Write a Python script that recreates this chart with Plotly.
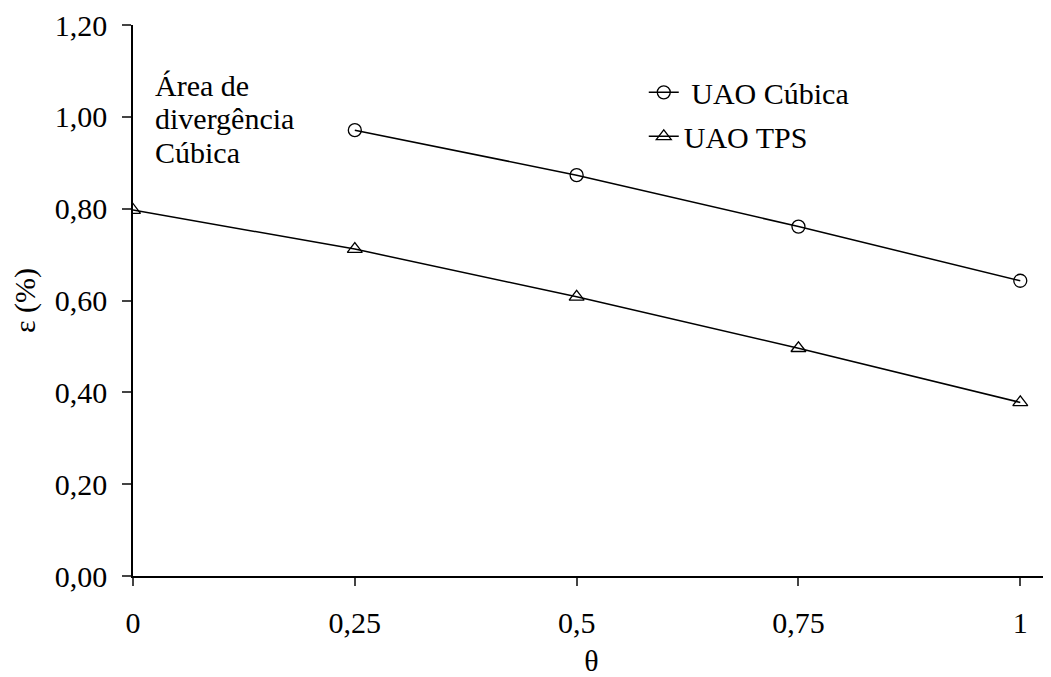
import plotly.graph_objects as go

theta_cub = [0.25, 0.5, 0.75, 1.0]
eps_cub = [0.971, 0.873, 0.761, 0.643]
theta_tps = [0.0, 0.25, 0.5, 0.75, 1.0]
eps_tps = [0.797, 0.712, 0.608, 0.496, 0.378]

x_tickvals = [0, 0.25, 0.5, 0.75, 1]
x_ticktext = ["0", "0,25", "0,5", "0,75", "1"]
y_tickvals = [0, 0.2, 0.4, 0.6, 0.8, 1.0, 1.2]

note_lines = ["Área de", "divergência", "Cúbica"]
note_y = [1.069, 0.997, 0.923]

FONT = "'Liberation Serif', 'Times New Roman', Times, serif"
FS = 30

fig = go.Figure()
fig.add_trace(go.Scatter(
    x=theta_cub, y=eps_cub, mode="lines+markers", name="\u00a0UAO Cúbica",
    line=dict(color="black", width=1.5),
    marker=dict(symbol="circle-open", size=13, color="black", line=dict(width=1.3)),
    legendgroup="a"))
fig.add_trace(go.Scatter(
    x=theta_tps, y=eps_tps, mode="lines+markers", name="UAO TPS",
    line=dict(color="black", width=1.5),
    marker=dict(symbol="triangle-up-open", size=13, color="black", line=dict(width=1.3)),
    legendgroup="b"))

for txt, yy in zip(note_lines, note_y):
    fig.add_annotation(
        x=0.022, y=yy, xref="x", yref="y", xanchor="left", yanchor="middle",
        text=txt, showarrow=False, align="left",
        font=dict(family=FONT, size=FS, color="black"))

fig.update_layout(
    width=1043, height=669,
    margin=dict(l=125, r=1, t=17, b=101),
    paper_bgcolor="white", plot_bgcolor="white",
    separators=",.",
    font=dict(family=FONT, size=FS, color="black"),
    showlegend=True,
    legend=dict(x=0.557, y=0.925, xanchor="left", yanchor="top",
                bgcolor="rgba(0,0,0,0)", tracegroupgap=2,
                font=dict(family=FONT, size=FS, color="black")),
    xaxis=dict(range=[0, 1.0335], tickvals=x_tickvals, ticktext=x_ticktext,
               showline=True, linecolor="black", linewidth=1.5,
               ticks="outside", ticklen=8, tickcolor="#444", tickwidth=1.5,
               showgrid=False, zeroline=False, automargin=False,
               ticklabelstandoff=11,
               title=dict(text="θ", standoff=20, font=dict(family=FONT, size=FS))),
    yaxis=dict(range=[0, 1.2], tickvals=y_tickvals, tickformat=".2f",
               showline=True, linecolor="black", linewidth=1.5,
               ticks="outside", ticklen=9, tickcolor="#444", tickwidth=1.5,
               showgrid=False, zeroline=False, automargin=False,
               ticklabelstandoff=9,
               title=dict(text="ε (%)", standoff=22, font=dict(family=FONT, size=FS))),
)

fig.write_html("out.html")
